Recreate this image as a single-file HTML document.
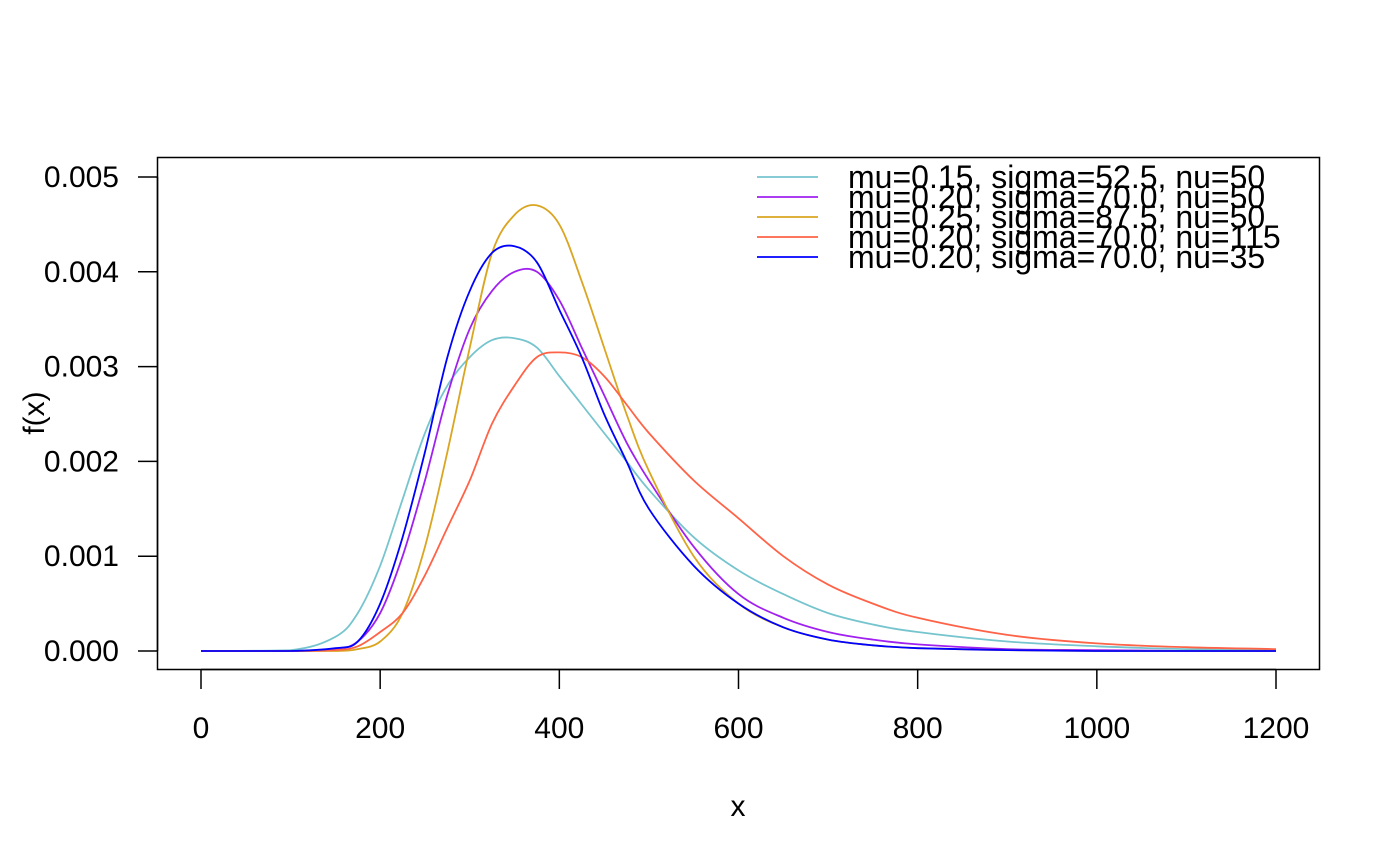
<!DOCTYPE html>
<html><head><meta charset="utf-8"><style>
html,body{margin:0;padding:0;background:#fff;}
svg{display:block;font-family:"Liberation Sans",Arial,sans-serif;}
</style></head><body>
<svg id="chart" width="1400" height="866" viewBox="0 0 1400 866" xmlns="http://www.w3.org/2000/svg">
<rect x="157.5" y="157.5" width="1162" height="512" fill="none" stroke="#000" stroke-width="1.5"/>
<g id="xaxis"></g>
<g id="yaxis"></g>
<g id="series"></g>
<g id="legend"></g>
<text x="738" y="816" font-size="30" text-anchor="middle">x</text>
<text transform="translate(44,413) rotate(-90)" font-size="30" text-anchor="middle">f(x)</text>
</svg>
<script>
const xVals = [0,100,150,175,200,225,250,275,300,325,350,375,400,425,450,475,500,550,600,650,700,750,800,900,1000,1100,1200];
const cyanVals   = [0,0.00001,0.00015,0.0004,0.0009,0.0016,0.0023,0.0028,0.0031,0.00328,0.0033,0.0032,0.0029,0.0026,0.0023,0.0020,0.0017,0.0012,0.00085,0.0006,0.0004,0.00028,0.0002,0.0001,0.00005,0.00002,0.00001];
const purpleVals = [0,0,0.00002,0.0001,0.0004,0.0010,0.0018,0.0027,0.0034,0.0038,0.0040,0.0040,0.0037,0.0032,0.0027,0.0022,0.0018,0.0011,0.0006,0.00035,0.0002,0.00012,0.00007,0.00002,0.00001,0,0];
const goldVals   = [0,0,0,0.00002,0.0001,0.0004,0.0011,0.0021,0.0032,0.0042,0.0046,0.0047,0.0045,0.0039,0.0032,0.0025,0.0019,0.0010,0.0005,0.00025,0.00012,0.00006,0.00003,0.00001,0,0,0];
const redVals    = [0,0,0.00001,0.00005,0.0002,0.0004,0.0008,0.0013,0.0018,0.0024,0.0028,0.0031,0.00315,0.0031,0.0029,0.0026,0.0023,0.0018,0.0014,0.0010,0.0007,0.0005,0.00035,0.00017,0.00008,0.00004,0.00002];
const blueVals   = [0,0,0.00003,0.0001,0.0005,0.0012,0.0021,0.0031,0.0038,0.0042,0.00427,0.0041,0.0036,0.0031,0.0025,0.0020,0.0015,0.0009,0.0005,0.00025,0.00012,0.00006,0.00003,0.00001,0,0,0];
const seriesNames = ["mu=0.15, sigma=52.5, nu=50","mu=0.20, sigma=70.0, nu=50","mu=0.25, sigma=87.5, nu=50","mu=0.20, sigma=70.0, nu=115","mu=0.20, sigma=70.0, nu=35"];
const xTicks = [0,200,400,600,800,1000,1200];
const yTicks = [0,0.001,0.002,0.003,0.004,0.005];
const yTickLabels = ["0.000","0.001","0.002","0.003","0.004","0.005"];

const NS="http://www.w3.org/2000/svg";
const sx = v => 201 + v*(1075/1200);
const sy = v => 651 - v*(474/0.005);
function mk(tag, attrs, parent){const e=document.createElementNS(NS,tag);for(const k in attrs)e.setAttribute(k,attrs[k]);parent.appendChild(e);return e;}

const xa=document.getElementById('xaxis');
mk('line',{x1:sx(xTicks[0]),x2:sx(xTicks[xTicks.length-1]),y1:669.5,y2:669.5,stroke:'#000','stroke-width':1.5},xa);
xTicks.forEach(t=>{
  const l=mk('line',{x1:sx(t),x2:sx(t),y1:669,y2:689,stroke:'#000','stroke-width':1.5},xa);
  
  
  const tx=mk('text',{x:sx(t),y:738,'font-size':30,'text-anchor':'middle'},xa);
  tx.textContent=String(t);
  
  
});
const ya=document.getElementById('yaxis');
mk('line',{x1:157.5,x2:157.5,y1:sy(yTicks[0]),y2:sy(yTicks[yTicks.length-1]),stroke:'#000','stroke-width':1.5},ya);
yTicks.forEach((t,i)=>{
  const l=mk('line',{x1:138,x2:157,y1:sy(t),y2:sy(t),stroke:'#000','stroke-width':1.5},ya);
  
  
  const tx=mk('text',{x:119,y:sy(t)+10,'font-size':30,'text-anchor':'end'},ya);
  tx.textContent=yTickLabels[i];
  
  
});

function smoothPath(pts){
  let d='M'+pts[0][0].toFixed(1)+','+pts[0][1].toFixed(1);
  for(let i=0;i<pts.length-1;i++){
    const p0=pts[Math.max(0,i-1)],p1=pts[i],p2=pts[i+1],p3=pts[Math.min(pts.length-1,i+2)];
    const c1x=p1[0]+(p2[0]-p0[0])/6,c1y=p1[1]+(p2[1]-p0[1])/6;
    const c2x=p2[0]-(p3[0]-p1[0])/6,c2y=p2[1]-(p3[1]-p1[1])/6;
    d+=' C'+c1x.toFixed(1)+','+Math.min(651,c1y).toFixed(1)+' '+c2x.toFixed(1)+','+Math.min(651,c2y).toFixed(1)+' '+p2[0].toFixed(1)+','+p2[1].toFixed(1);
  }
  return d;
}

const colors=["#76C5CE","#A020F0","#DAA520","#FF6347","#0000FF"];
const allVals=[cyanVals,purpleVals,goldVals,redVals,blueVals];
const sg=document.getElementById('series');
allVals.forEach((vals,i)=>{
  const pts=xVals.map((x,j)=>[sx(x),sy(vals[j])]);
  const p=mk('path',{d:smoothPath(pts),fill:'none',stroke:colors[i],'stroke-width':1.8,'stroke-linejoin':'round'},sg);
  
  
});
const lg=document.getElementById('legend');
seriesNames.forEach((n,i)=>{
  const y=177+i*20;
  const l=mk('line',{x1:757,x2:818,y1:y,y2:y,stroke:colors[i],'stroke-width':1.8},lg);
  
  
  const t=mk('text',{x:848,y:y+11,'font-size':32},lg);
  t.textContent=n;
  
  
});
</script>
</body></html>
